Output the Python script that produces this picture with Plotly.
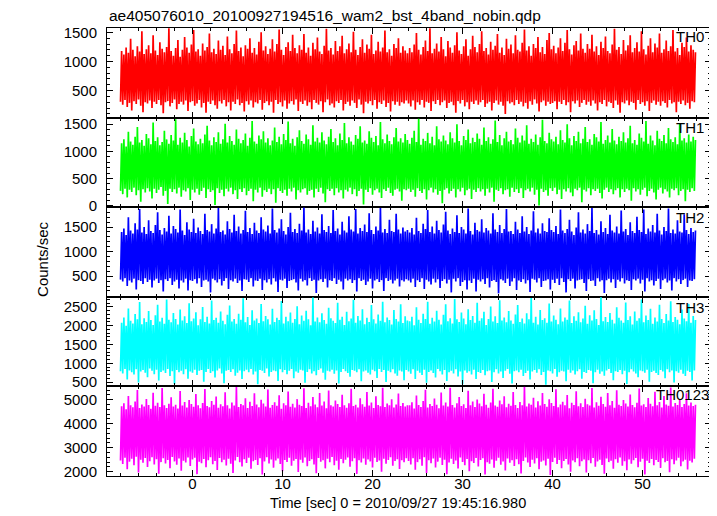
import numpy as np
import plotly.graph_objects as go
from plotly.subplots import make_subplots

# ---------------- data (per 0.25 s bin: low / high envelope of the light curve) ----------------
t_start = -8.0
bin_width = 0.25

th0_hi = [1180, 1120, 1240, 1150, 1390, 1200, 1090, 1260, 1170, 1520, 1130, 1210, 1280, 1140, 1450, 1190,
          1110, 1330, 1220, 1160, 1250, 1570, 1180, 1100, 1230, 1370, 1080, 1200, 1420, 1240, 1150, 1290,
          1540, 1170, 1210, 1100, 1310, 1190, 1250, 1480, 1160, 1220, 1130, 1360, 1200, 1270, 1110, 1430,
          1210, 1140, 1300, 1530, 1180, 1240, 1090, 1280, 1220, 1400, 1150, 1230, 1120, 1340, 1500, 1190,
          1260, 1130, 1220, 1380, 1170, 1300, 1550, 1200, 1110, 1250, 1330, 1180, 1460, 1230, 1140, 1280,
          1200, 1470, 1150, 1240, 1100, 1320, 1210, 1410, 1170, 1130, 1270, 1560, 1190, 1230, 1120, 1350,
          1180, 1260, 1440, 1140, 1210, 1310, 1160, 1510, 1200, 1110, 1250, 1380, 1150, 1290, 1220, 1460,
          1130, 1190, 1340, 1170, 1240, 1530, 1160, 1210, 1100, 1300, 1230, 1400, 1150, 1260, 1190, 1140,
          1230, 1160, 1290, 1490, 1200, 1120, 1250, 1360, 1180, 1570, 1140, 1220, 1310, 1170, 1420, 1210,
          1090, 1350, 1240, 1150, 1280, 1500, 1190, 1130, 1260, 1380, 1100, 1210, 1440, 1250, 1160, 1300,
          1520, 1180, 1230, 1120, 1340, 1200, 1270, 1470, 1150, 1240, 1110, 1390, 1220, 1290, 1140, 1450,
          1200, 1170, 1320, 1550, 1190, 1260, 1100, 1300, 1230, 1420, 1160, 1250, 1130, 1370, 1490, 1210,
          1270, 1140, 1240, 1400, 1180, 1320, 1540, 1210, 1120, 1280, 1350, 1190, 1480, 1220, 1150, 1300,
          1220, 1460, 1170, 1260, 1110, 1340, 1230, 1430, 1180, 1140, 1290, 1560, 1200, 1250, 1130, 1370,
          1190, 1280, 1450, 1160, 1230, 1330, 1170, 1520, 1210, 1120, 1270, 1400, 1160, 1310, 1240, 1480,
          1150, 1210, 1360, 1180, 1260, 1540, 1170, 1230, 1110, 1320, 1250, 1410, 1170, 1280, 1200, 1160]
th0_lo = [310, 260, 340, 220, 290, 160, 320, 270, 350, 240, 130, 300, 280, 330, 200, 310,
          270, 340, 250, 110, 300, 320, 230, 290, 350, 180, 270, 310, 260, 330, 150, 300,
          320, 240, 280, 340, 210, 290, 120, 310, 270, 330, 250, 190, 320, 280, 340, 230,
          300, 160, 310, 270, 350, 250, 290, 140, 320, 260, 330, 210, 300, 280, 340, 170,
          290, 320, 250, 310, 120, 340, 270, 300, 230, 330, 190, 280, 320, 260, 350, 150,
          310, 270, 330, 240, 300, 180, 340, 290, 260, 320, 130, 300, 350, 250, 280, 210,
          320, 290, 340, 160, 270, 310, 240, 330, 290, 200, 350, 260, 110, 310, 280, 320,
          250, 340, 190, 300, 270, 330, 220, 290, 140, 320, 260, 310, 240, 300, 280, 330,
          280, 230, 330, 170, 300, 260, 340, 210, 310, 290, 150, 320, 270, 340, 250, 300,
          330, 200, 290, 310, 250, 120, 320, 280, 340, 230, 300, 180, 310, 270, 330, 260,
          300, 340, 220, 280, 310, 160, 290, 330, 260, 310, 240, 100, 320, 280, 300, 250,
          340, 270, 310, 230, 290, 190, 320, 260, 350, 280, 140, 300, 330, 240, 310, 270,
          290, 320, 180, 310, 270, 340, 250, 300, 130, 320, 280, 330, 220, 290, 340, 260,
          310, 240, 330, 280, 160, 300, 270, 340, 230, 310, 290, 200, 330, 260, 120, 300,
          280, 330, 250, 310, 290, 170, 340, 270, 300, 240, 320, 150, 290, 330, 260, 310,
          240, 320, 290, 210, 340, 280, 300, 130, 310, 270, 330, 250, 290, 190, 320, 300]

th1_hi = [1150, 1220, 1090, 1360, 1180, 1120, 1270, 1450, 1160, 1210, 1100, 1320, 1240, 1130, 1530, 1190,
          1260, 1110, 1170, 1380, 1220, 1140, 1300, 1200, 1590, 1120, 1250, 1160, 1340, 1210, 1090, 1280,
          1420, 1180, 1130, 1230, 1150, 1310, 1470, 1200, 1110, 1260, 1170, 1350, 1140, 1220, 1510, 1160,
          1280, 1190, 1120, 1400, 1230, 1150, 1210, 1330, 1100, 1250, 1560, 1180, 1140, 1290, 1220, 1370,
          1160, 1240, 1110, 1200, 1440, 1170, 1270, 1130, 1320, 1210, 1550, 1150, 1230, 1100, 1260, 1390,
          1190, 1140, 1310, 1220, 1120, 1480, 1180, 1250, 1160, 1350, 1200, 1130, 1270, 1410, 1170, 1240,
          1110, 1330, 1210, 1520, 1150, 1260, 1180, 1120, 1300, 1230, 1460, 1160, 1200, 1140, 1370, 1250,
          1170, 1280, 1110, 1540, 1220, 1150, 1310, 1190, 1130, 1260, 1430, 1180, 1240, 1160, 1320, 1210,
          1140, 1250, 1380, 1170, 1600, 1120, 1230, 1190, 1340, 1150, 1270, 1110, 1460, 1220, 1180, 1290,
          1200, 1130, 1350, 1240, 1160, 1500, 1190, 1110, 1280, 1210, 1400, 1150, 1250, 1170, 1330, 1230,
          1120, 1440, 1190, 1260, 1140, 1220, 1570, 1170, 1300, 1110, 1240, 1360, 1180, 1210, 1130, 1420,
          1250, 1160, 1290, 1200, 1480, 1140, 1230, 1170, 1310, 1120, 1260, 1580, 1190, 1150, 1340, 1220,
          1180, 1270, 1130, 1390, 1210, 1160, 1500, 1240, 1110, 1280, 1190, 1360, 1150, 1230, 1450, 1170,
          1220, 1120, 1320, 1260, 1180, 1540, 1140, 1210, 1290, 1160, 1410, 1200, 1130, 1270, 1190, 1350,
          1160, 1240, 1470, 1150, 1210, 1120, 1330, 1250, 1180, 1560, 1140, 1290, 1200, 1110, 1380, 1230,
          1190, 1300, 1150, 1430, 1220, 1170, 1260, 1130, 1520, 1200, 1240, 1160, 1310, 1180, 1270, 1210]
th1_lo = [270, 210, 310, 150, 290, 250, 330, 190, 280, 70, 300, 240, 320, 260, 130, 310,
          230, 290, 340, 180, 270, 30, 310, 250, 300, 220, 330, 160, 280, 260, 320, 100,
          290, 240, 310, 200, 270, 330, 140, 300, 250, 280, 10, 320, 230, 290, 170, 310,
          260, 330, 210, 280, 120, 300, 250, 320, 190, 270, 310, 80, 290, 240, 330, 160,
          280, 250, 310, 210, 300, 50, 320, 270, 230, 290, 180, 310, 260, 330, 110, 280,
          240, 300, 320, 200, 270, 290, 150, 310, 250, 330, 220, 60, 300, 270, 310, 190,
          320, 240, 280, 130, 290, 260, 330, 210, 300, 170, 270, 310, 20, 290, 250, 320,
          200, 280, 310, 240, 140, 300, 270, 330, 230, 180, 290, 310, 260, 90, 300, 280,
          310, 250, 290, 160, 320, 270, 230, 300, 110, 280, 330, 240, 300, 200, 270, 40,
          290, 320, 220, 270, 310, 150, 300, 260, 330, 190, 280, 310, 120, 290, 250, 320,
          260, 300, 180, 310, 240, 330, 70, 290, 270, 320, 210, 280, 300, 160, 330, 250,
          300, 230, 320, 140, 280, 310, 260, 330, 200, 290, 0, 310, 250, 280, 180, 320,
          270, 330, 210, 290, 120, 300, 260, 320, 240, 170, 310, 280, 330, 60, 290, 260,
          320, 190, 300, 270, 310, 230, 130, 290, 330, 250, 300, 210, 280, 320, 150, 300,
          250, 310, 280, 90, 320, 260, 300, 200, 290, 330, 170, 270, 310, 240, 110, 290,
          330, 220, 300, 260, 150, 310, 280, 320, 190, 270, 300, 80, 290, 250, 320, 270]

th2_hi = [1400, 1470, 1340, 1700, 1430, 1370, 1580, 1450, 1870, 1390, 1500, 1360, 1640, 1420, 1380, 1540,
          1800, 1440, 1350, 1480, 1410, 1730, 1370, 1520, 1460, 1390, 1860, 1430, 1340, 1600, 1450, 1400,
          1670, 1380, 1490, 1420, 1360, 1770, 1440, 1410, 1560, 1370, 1470, 1890, 1400, 1430, 1350, 1620,
          1460, 1390, 1750, 1420, 1510, 1370, 1440, 1830, 1400, 1480, 1360, 1590, 1430, 1380, 1700, 1450,
          1410, 1530, 1370, 1880, 1440, 1390, 1470, 1660, 1420, 1350, 1500, 1790, 1400, 1460, 1380, 1570,
          1430, 1900, 1390, 1450, 1360, 1630, 1410, 1490, 1370, 1760, 1440, 1400, 1520, 1380, 1850, 1420,
          1470, 1350, 1610, 1430, 1390, 1720, 1450, 1410, 1870, 1370, 1480, 1420, 1550, 1400, 1780, 1440,
          1360, 1510, 1430, 1890, 1390, 1460, 1380, 1650, 1420, 1400, 1770, 1450, 1370, 1490, 1410, 1440,
          1390, 1480, 1350, 1690, 1420, 1380, 1570, 1460, 1850, 1400, 1510, 1370, 1630, 1440, 1390, 1550,
          1810, 1430, 1360, 1470, 1400, 1740, 1380, 1500, 1450, 1370, 1880, 1420, 1350, 1590, 1440, 1410,
          1660, 1390, 1480, 1430, 1370, 1780, 1450, 1400, 1540, 1380, 1460, 1870, 1410, 1420, 1360, 1610,
          1450, 1380, 1720, 1410, 1500, 1360, 1430, 1820, 1390, 1470, 1370, 1580, 1420, 1400, 1680, 1440,
          1400, 1520, 1360, 1860, 1430, 1380, 1460, 1650, 1410, 1340, 1490, 1800, 1390, 1450, 1370, 1560,
          1420, 1890, 1380, 1440, 1350, 1620, 1400, 1480, 1360, 1750, 1430, 1390, 1510, 1370, 1840, 1410,
          1460, 1340, 1600, 1420, 1380, 1710, 1440, 1400, 1860, 1360, 1470, 1410, 1540, 1390, 1770, 1430,
          1350, 1500, 1420, 1880, 1380, 1450, 1370, 1640, 1410, 1390, 1760, 1440, 1360, 1480, 1400, 1430]
th2_lo = [430, 390, 460, 300, 410, 370, 450, 230, 420, 400, 340, 460, 380, 430, 270, 410,
          450, 360, 420, 190, 440, 400, 460, 320, 390, 430, 250, 410, 370, 450, 210, 420,
          400, 440, 350, 460, 280, 410, 430, 390, 170, 450, 420, 370, 440, 310, 400, 460,
          240, 420, 390, 450, 360, 410, 200, 440, 430, 380, 460, 290, 410, 400, 450, 220,
          420, 370, 440, 330, 460, 390, 180, 430, 410, 450, 260, 400, 420, 440, 370, 210,
          450, 390, 420, 310, 460, 400, 430, 160, 410, 440, 380, 450, 270, 420, 400, 460,
          340, 430, 390, 230, 450, 410, 440, 360, 420, 190, 460, 400, 430, 320, 390, 450,
          250, 410, 440, 380, 420, 200, 460, 400, 430, 350, 410, 450, 290, 420, 390, 440,
          410, 370, 450, 280, 420, 380, 460, 240, 430, 390, 330, 450, 370, 440, 260, 400,
          440, 350, 430, 170, 450, 390, 460, 300, 380, 420, 230, 410, 360, 450, 190, 430,
          390, 440, 340, 460, 270, 400, 420, 380, 150, 440, 410, 360, 450, 300, 390, 460,
          220, 410, 380, 440, 350, 420, 180, 450, 430, 370, 460, 280, 400, 410, 440, 230,
          430, 360, 450, 320, 460, 380, 170, 440, 400, 450, 250, 410, 430, 440, 360, 200,
          440, 400, 410, 300, 460, 390, 420, 160, 420, 450, 370, 440, 260, 430, 390, 460,
          350, 420, 400, 220, 440, 410, 450, 350, 430, 190, 460, 390, 420, 310, 400, 450,
          240, 420, 450, 370, 410, 210, 460, 390, 440, 340, 420, 450, 280, 410, 400, 440]

th3_hi = [2080, 2220, 2000, 2460, 2130, 2060, 2310, 2170, 2630, 2040, 2200, 2100, 2390, 2150, 2020, 2280,
          2560, 2110, 2210, 2050, 2700, 2160, 2090, 2340, 2180, 2030, 2430, 2140, 2250, 2070, 2600, 2120,
          2190, 2360, 2010, 2170, 2500, 2100, 2240, 2060, 2670, 2150, 2210, 2080, 2380, 2130, 2040, 2290,
          2540, 2110, 2180, 2050, 2320, 2160, 2730, 2090, 2230, 2020, 2410, 2140, 2190, 2070, 2580, 2120,
          2260, 2170, 2030, 2450, 2100, 2210, 2150, 2660, 2060, 2240, 2120, 2350, 2080, 2180, 2520, 2040,
          2270, 2130, 2400, 2170, 2010, 2750, 2110, 2220, 2090, 2330, 2150, 2050, 2480, 2200, 2130, 2070,
          2610, 2160, 2240, 2020, 2370, 2120, 2190, 2690, 2080, 2260, 2140, 2440, 2040, 2210, 2100, 2550,
          2170, 2060, 2300, 2130, 2640, 2090, 2220, 2150, 2030, 2420, 2180, 2110, 2570, 2070, 2250, 2140,
          2120, 2240, 2010, 2490, 2160, 2070, 2320, 2180, 2640, 2050, 2210, 2110, 2400, 2160, 2030, 2290,
          2570, 2120, 2200, 2060, 2710, 2170, 2100, 2350, 2190, 2040, 2440, 2150, 2260, 2080, 2610, 2130,
          2200, 2370, 2020, 2180, 2510, 2110, 2250, 2070, 2680, 2140, 2220, 2090, 2390, 2140, 2050, 2300,
          2550, 2100, 2190, 2060, 2330, 2170, 2740, 2080, 2240, 2030, 2420, 2150, 2200, 2080, 2590, 2110,
          2270, 2160, 2040, 2460, 2110, 2220, 2160, 2670, 2070, 2250, 2130, 2360, 2090, 2190, 2530, 2050,
          2280, 2140, 2410, 2180, 2020, 2760, 2120, 2230, 2100, 2340, 2160, 2060, 2490, 2210, 2140, 2080,
          2620, 2150, 2250, 2030, 2380, 2130, 2200, 2700, 2090, 2270, 2150, 2450, 2050, 2220, 2110, 2560,
          2180, 2070, 2310, 2140, 2650, 2100, 2230, 2160, 2040, 2430, 2190, 2120, 2580, 2080, 2260, 2150]
th3_lo = [790, 730, 850, 570, 810, 760, 700, 840, 490, 780, 820, 750, 630, 860, 800, 710,
          830, 540, 770, 810, 740, 850, 660, 790, 450, 820, 760, 800, 710, 840, 590, 780,
          750, 830, 690, 800, 820, 510, 770, 850, 740, 790, 620, 810, 860, 730, 470, 800,
          820, 770, 840, 670, 750, 810, 580, 790, 830, 760, 850, 700, 780, 440, 820, 800,
          740, 860, 650, 770, 810, 790, 530, 840, 760, 820, 710, 800, 850, 600, 780, 750,
          830, 810, 480, 770, 840, 730, 790, 680, 820, 860, 750, 560, 800, 780, 830, 720,
          810, 460, 770, 850, 790, 740, 640, 820, 800, 760, 840, 520, 780, 810, 750, 700,
          830, 790, 610, 850, 770, 820, 500, 800, 760, 840, 730, 670, 810, 780, 550, 820,
          780, 720, 840, 580, 800, 750, 690, 830, 480, 770, 810, 740, 620, 850, 790, 700,
          820, 530, 760, 800, 730, 840, 650, 780, 440, 810, 750, 790, 700, 830, 580, 770,
          740, 820, 680, 790, 810, 500, 760, 840, 730, 780, 610, 800, 850, 720, 460, 790,
          810, 760, 830, 660, 740, 800, 570, 780, 820, 750, 840, 690, 770, 430, 810, 790,
          730, 850, 640, 760, 800, 780, 520, 830, 750, 810, 700, 790, 840, 590, 770, 740,
          820, 800, 470, 760, 830, 720, 780, 670, 810, 850, 740, 550, 790, 770, 820, 710,
          800, 450, 760, 840, 780, 730, 630, 810, 790, 750, 830, 510, 770, 800, 740, 690,
          820, 780, 600, 840, 760, 810, 490, 790, 750, 830, 720, 660, 800, 770, 540, 810]

th0123_hi = [4720, 4850, 4600, 5150, 4760, 4680, 4920, 5400, 4650, 4800, 4710, 5030, 4780, 4620, 5290, 4740,
             4870, 4690, 5480, 4760, 4650, 4830, 5100, 4710, 4790, 4630, 5360, 4750, 4900, 4670, 4980, 4820,
             4700, 5230, 4770, 4640, 4860, 5440, 4730, 4680, 4940, 4790, 5130, 4660, 4810, 4720, 5310, 4760,
             4630, 4880, 4750, 5520, 4690, 4820, 4770, 5060, 4650, 4910, 4730, 5260, 4800, 4680, 4990, 4840,
             4710, 5420, 4660, 4780, 4890, 4740, 5180, 4620, 4850, 4760, 5340, 4700, 4830, 4670, 5020, 4790,
             4730, 5470, 4650, 4870, 4720, 5110, 4800, 4680, 5270, 4750, 4920, 4640, 5380, 4770, 4710, 4960,
             4820, 4690, 5200, 4760, 4660, 4850, 5450, 4730, 4790, 4670, 5060, 4810, 4700, 5320, 4750, 4880,
             4650, 5140, 4780, 4720, 5490, 4690, 4840, 4760, 5010, 4670, 4800, 5250, 4730, 4860, 4710, 4770,
             4760, 4890, 4630, 5170, 4780, 4690, 4940, 5410, 4670, 4820, 4730, 5050, 4790, 4640, 5300, 4750,
             4880, 4710, 5490, 4780, 4670, 4850, 5110, 4730, 4810, 4650, 5370, 4770, 4920, 4690, 5000, 4840,
             4720, 5240, 4790, 4660, 4880, 5450, 4750, 4700, 4960, 4810, 5140, 4680, 4830, 4740, 5320, 4780,
             4650, 4900, 4770, 5530, 4710, 4840, 4790, 5080, 4670, 4930, 4750, 5270, 4820, 4700, 5010, 4860,
             4730, 5430, 4680, 4800, 4910, 4760, 5190, 4640, 4870, 4780, 5350, 4720, 4850, 4690, 5040, 4810,
             4750, 5480, 4670, 4890, 4740, 5120, 4820, 4700, 5280, 4770, 4940, 4660, 5390, 4790, 4730, 4980,
             4840, 4710, 5210, 4780, 4680, 4870, 5460, 4750, 4810, 4690, 5070, 4830, 4720, 5330, 4770, 4900,
             4670, 5150, 4800, 4740, 5500, 4710, 4860, 4780, 5030, 4690, 4820, 5260, 4750, 4880, 4730, 4790]
th0123_lo = [2470, 2320, 2580, 2100, 2420, 2540, 2270, 2620, 1970, 2500, 2370, 2570, 2200, 2440, 2600, 2300,
             2520, 1920, 2400, 2560, 2340, 2490, 2150, 2610, 2430, 2290, 2550, 2040, 2460, 2380, 2590, 2240,
             2510, 2580, 1900, 2420, 2350, 2530, 2190, 2480, 2600, 2310, 2450, 2070, 2570, 2390, 2500, 2260,
             2540, 2330, 1950, 2470, 2610, 2400, 2220, 2520, 2360, 2580, 2120, 2440, 2490, 2280, 2560, 1880,
             2430, 2600, 2340, 2510, 2170, 2470, 2550, 2320, 2020, 2490, 2410, 2580, 2250, 2460, 2530, 1990,
             2500, 2370, 2590, 2230, 2450, 2520, 2300, 1940, 2570, 2420, 2480, 2140, 2540, 2390, 2610, 2270,
             2460, 2080, 2530, 2350, 2500, 2590, 2210, 2440, 2560, 1910, 2480, 2380, 2550, 2290, 2510, 2430,
             2180, 2580, 2410, 2470, 2000, 2540, 2330, 2490, 2600, 2250, 2450, 2520, 2110, 2480, 2400, 2560,
             2450, 2300, 2560, 2080, 2400, 2520, 2250, 2600, 1950, 2480, 2350, 2550, 2180, 2420, 2580, 2280,
             2500, 1900, 2380, 2540, 2320, 2470, 2130, 2590, 2410, 2270, 2530, 2020, 2440, 2360, 2570, 2220,
             2490, 2560, 1880, 2400, 2330, 2510, 2170, 2460, 2580, 2290, 2430, 2050, 2550, 2370, 2480, 2240,
             2520, 2310, 1930, 2450, 2590, 2380, 2200, 2500, 2340, 2560, 2100, 2420, 2470, 2260, 2540, 1860,
             2410, 2580, 2320, 2490, 2150, 2450, 2530, 2300, 2000, 2470, 2390, 2560, 2230, 2440, 2510, 1970,
             2480, 2350, 2570, 2210, 2430, 2500, 2280, 1920, 2550, 2400, 2460, 2120, 2520, 2370, 2590, 2250,
             2440, 2060, 2510, 2330, 2480, 2570, 2190, 2420, 2540, 1890, 2460, 2360, 2530, 2270, 2490, 2410,
             2160, 2560, 2390, 2450, 1980, 2520, 2310, 2470, 2580, 2230, 2430, 2500, 2090, 2460, 2380, 2540]

band_names = ["TH0", "TH1", "TH2", "TH3", "TH0123"]
band_colors = ["#ff0000", "#00ff00", "#0000ff", "#00ffff", "#ff00ff"]
band_lo = [th0_lo, th1_lo, th2_lo, th3_lo, th0123_lo]
band_hi = [th0_hi, th1_hi, th2_hi, th3_hi, th0123_hi]
y_ranges = [[37, 1575], [-31, 1622], [80, 1905], [384, 2770], [1822, 5550]]
y_major = [500, 500, 500, 500, 1000]
y_minor = [100, 100, 100, 100, 200]
x_range = [-9.5, 57.6]

title_text = "ae405076010_20100927194516_wam2_bst_4band_nobin.qdp"
x_title = "Time [sec] 0 = 2010/09/27 19:45:16.980"
y_title = "Counts/sec"

FONT = "Liberation Sans, Arial, Helvetica, sans-serif"


def zigzag(lo, hi):
    n = min(len(lo), len(hi))
    t = t_start + bin_width * np.arange(n)
    x = np.empty(2 * n)
    y = np.empty(2 * n)
    x[0::2] = t
    x[1::2] = t + bin_width / 2
    y[0::2] = np.asarray(lo[:n], dtype=float)
    y[1::2] = np.asarray(hi[:n], dtype=float)
    return x, y


fig = make_subplots(rows=5, cols=1, shared_xaxes=True, vertical_spacing=0)

for i in range(5):
    x, y = zigzag(band_lo[i], band_hi[i])
    fig.add_trace(go.Scatter(x=x, y=y, mode="lines",
                             line=dict(color=band_colors[i], width=1.7),
                             showlegend=False, hoverinfo="skip"),
                  row=i + 1, col=1)

for i in range(5):
    fig.update_yaxes(range=y_ranges[i], dtick=y_major[i], tick0=0,
                     ticks="inside", ticklen=6, tickcolor="black", tickwidth=1,
                     minor=dict(ticks="inside", ticklen=3, dtick=y_minor[i], tick0=0,
                                tickcolor="black", showgrid=False),
                     showline=True, linecolor="black", linewidth=1, mirror="allticks",
                     showgrid=False, zeroline=False, automargin=False,
                     tickfont=dict(family=FONT, size=15, color="black"),
                     ticklabelstandoff=6,
                     row=i + 1, col=1)
    fig.update_xaxes(range=x_range, dtick=10, tick0=0,
                     ticks="inside", ticklen=6, tickcolor="black", tickwidth=1,
                     minor=dict(ticks="inside", ticklen=3, dtick=2, tick0=0,
                                tickcolor="black", showgrid=False),
                     showline=True, linecolor="black", linewidth=1, mirror="allticks",
                     showgrid=False, zeroline=False, automargin=False,
                     tickfont=dict(family=FONT, size=15, color="black"),
                     ticklabelstandoff=-6,
                     row=i + 1, col=1)

# panel labels
label_x = [0.939, 0.939, 0.939, 0.939, 0.906]
label_y = [0.980, 0.779, 0.576, 0.377, 0.181]
for i in range(5):
    fig.add_annotation(text=band_names[i], x=label_x[i], y=label_y[i],
                       xref="paper", yref="paper", xanchor="left", yanchor="middle",
                       showarrow=False, font=dict(family=FONT, size=15, color="black"))

fig.add_annotation(text=title_text, x=0, y=1.029, xref="paper", yref="paper",
                   xanchor="left", yanchor="middle", showarrow=False,
                   font=dict(family=FONT, size=15.5, color="black"))
fig.add_annotation(text=x_title, x=0.481, y=-0.061, xref="paper", yref="paper",
                   xanchor="center", yanchor="middle", showarrow=False,
                   font=dict(family=FONT, size=14.5, color="black"))
fig.add_annotation(text=y_title, x=-0.108, y=0.484, xref="paper", yref="paper",
                   xanchor="center", yanchor="middle", textangle=-90, showarrow=False,
                   font=dict(family=FONT, size=15, color="black"))

# the page body has an 8 px default margin; size the figure so the plot lands where the reference has it
fig.update_layout(width=709, height=508,
                  margin=dict(l=99, r=6, t=20, b=40),
                  paper_bgcolor="white", plot_bgcolor="white",
                  showlegend=False)

fig.write_html("out.html")
